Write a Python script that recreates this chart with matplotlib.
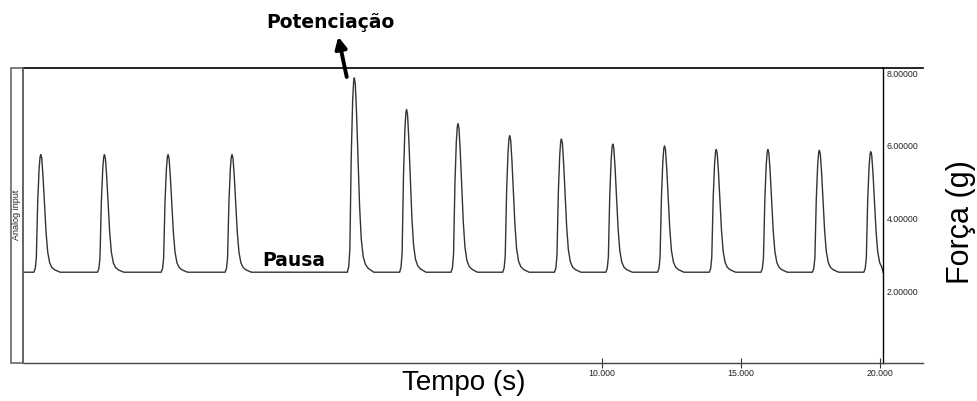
import matplotlib
matplotlib.use("Agg")
import matplotlib.pyplot as plt
from matplotlib.lines import Line2D
from matplotlib.patches import Rectangle
import numpy as np

# ---- data ----
peak_times = [-10.19, -7.90, -5.61, -3.31, 1.09, 2.97, 4.82, 6.68, 8.54,
              10.39, 12.25, 14.11, 15.97, 17.82, 19.67]
peak_heights = [5.76, 5.76, 5.76, 5.76, 7.87, 7.00, 6.61, 6.28, 6.19,
                6.05, 6.00, 5.90, 5.90, 5.88, 5.84]
baseline = 2.53
# twitch shape (time offset in s, fraction of amplitude)
shape_t = [-0.25, -0.20, -0.16, -0.11, -0.06, -0.025, 0.0, 0.035, 0.08, 0.14,
           0.19, 0.25, 0.32, 0.40, 0.50, 0.70]
shape_f = [0.0, 0.03, 0.12, 0.60, 0.88, 0.98, 1.0, 0.97, 0.82, 0.56,
           0.34, 0.17, 0.08, 0.04, 0.02, 0.0]
x_ticks = [10, 15, 20]
y_ticks = [2, 4, 6, 8]
x_range = (-10.84, 20.11)
y_range = (0.036, 8.14)

# ---- build trace ----
t = [x_range[0]]
v = [baseline]
for pt, ph in zip(peak_times, peak_heights):
    for st, sf in zip(shape_t, shape_f):
        t.append(pt + st)
        v.append(baseline + (ph - baseline) * sf)
t.append(x_range[1])
v.append(baseline)
t = np.array(t)
v = np.array(v)
keep = (t >= x_range[0]) & (t <= x_range[1])

W, H = 977, 401
fig = plt.figure(figsize=(W / 100, H / 100), dpi=100)
L, R, T, B = 22.7, 883, 68, 363
ax = fig.add_axes([L / W, 1 - B / H, (R - L) / W, (B - T) / H])
ax.plot(t[keep], v[keep], color='#333333', lw=1.0)
ax.set_xlim(*x_range)
ax.set_ylim(*y_range)

ax.yaxis.tick_right()
ax.set_yticks(y_ticks)
ax.set_yticklabels(['%.5f' % y for y in y_ticks])
ax.tick_params(axis='y', length=0, pad=2.5, labelsize=6.3, labelcolor='#222222')
ax.set_xticks(x_ticks)
ax.set_xticklabels(['%.3f' % x for x in x_ticks])
ax.tick_params(axis='x', direction='inout', length=7, width=0.8, color='#333333',
               labelsize=6.3, pad=0.5, labelcolor='#222222')
for lab in ax.get_xticklabels() + ax.get_yticklabels():
    lab.set_family('Liberation Sans')

ax.spines['top'].set_color('black'); ax.spines['top'].set_linewidth(1.2)
ax.spines['bottom'].set_color('#444444'); ax.spines['bottom'].set_linewidth(1.0)
ax.spines['left'].set_color('#555555'); ax.spines['left'].set_linewidth(1.2)
ax.spines['right'].set_color('black'); ax.spines['right'].set_linewidth(1.0)

# extensions of top and bottom frame lines beyond the right axis
fig.add_artist(Line2D([R / W, 923 / W], [1 - T / H, 1 - T / H], color='black', lw=1.2))
fig.add_artist(Line2D([R / W, 923 / W], [1 - B / H, 1 - B / H], color='#444444', lw=1.0))

# "Analog input" channel box
fig.add_artist(Rectangle((11 / W, 1 - B / H), (L - 11) / W, (B - T) / H, fill=False,
                         edgecolor='#666666', lw=1.2))
fig.text(16.8 / W, 1 - 215 / H, 'Analog input', rotation=90, ha='center', va='center',
         fontsize=6.5, family='Liberation Sans', color='#222222')

# annotations
fig.text(330 / W, 1 - 23 / H, 'Potenciação', ha='center', va='center', fontsize=13.5,
         fontweight='bold', family='DejaVu Sans')
fig.text(294 / W, 1 - 260 / H, 'Pausa', ha='center', va='center', fontsize=13.5,
         fontweight='bold', family='DejaVu Sans')
ax.annotate('', xy=(338.3, H - 36.7), xycoords='figure pixels',
            xytext=(346.7, H - 77), textcoords='figure pixels',
            arrowprops=dict(arrowstyle='-|>', lw=2.8, color='black', mutation_scale=17,
                            shrinkA=0, shrinkB=0))

fig.text(464 / W, 1 - 383 / H, 'Tempo (s)', ha='center', va='center', fontsize=20,
         family='Liberation Sans')
fig.text(961 / W, 1 - 222 / H, 'Força (g)', ha='center', va='center', fontsize=22,
         rotation=90, family='Liberation Sans')

fig.savefig('out.png', dpi=100)
